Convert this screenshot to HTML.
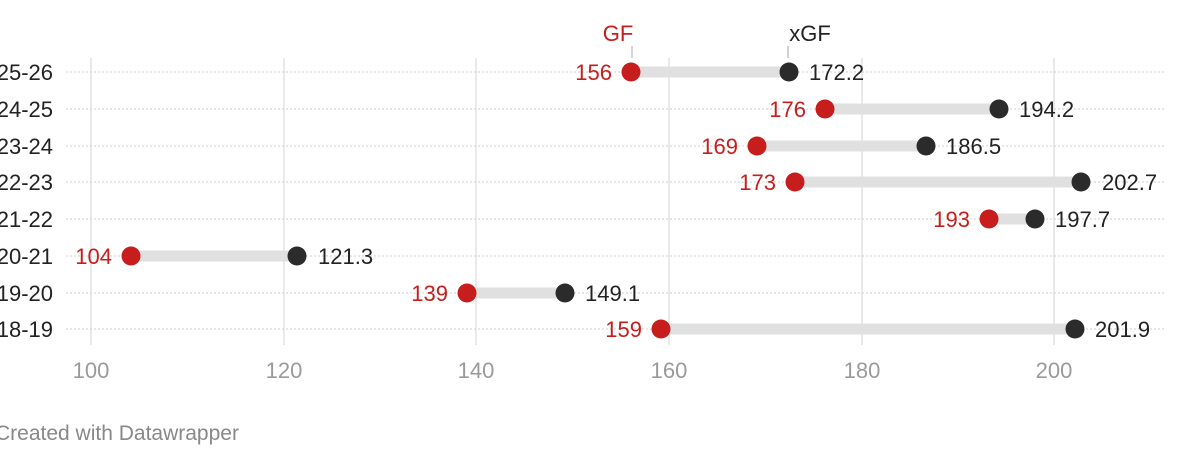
<!DOCTYPE html>
<html><head><meta charset="utf-8"><style>
html,body{margin:0;padding:0;background:#fff;width:1200px;height:458px;overflow:hidden}
svg{display:block;font-family:"Liberation Sans",sans-serif}
</style></head><body>
<svg width="1200" height="458" viewBox="0 0 1200 458">
<g stroke="#e2e2e2" stroke-width="1.5">
<line x1="91" y1="58" x2="91" y2="345"/><line x1="284" y1="58" x2="284" y2="345"/>
<line x1="476" y1="58" x2="476" y2="345"/><line x1="669" y1="58" x2="669" y2="345"/>
<line x1="862" y1="58" x2="862" y2="345"/><line x1="1054" y1="58" x2="1054" y2="345"/>
</g>
<g stroke="#cfcfcf" stroke-width="1" stroke-dasharray="2,2">
<line x1="66" y1="72" x2="1166" y2="72"/><line x1="66" y1="109" x2="1166" y2="109"/>
<line x1="66" y1="146" x2="1166" y2="146"/><line x1="66" y1="182" x2="1166" y2="182"/>
<line x1="66" y1="219" x2="1166" y2="219"/><line x1="66" y1="256" x2="1166" y2="256"/>
<line x1="66" y1="293" x2="1166" y2="293"/><line x1="66" y1="329" x2="1166" y2="329"/>
</g>
<g font-size="22" fill="#222" text-anchor="end">
<text x="53" y="80">2025-26</text><text x="53" y="117">2024-25</text>
<text x="53" y="154">2023-24</text><text x="53" y="190">2022-23</text>
<text x="53" y="227">2021-22</text><text x="53" y="264">2020-21</text>
<text x="53" y="301">2019-20</text><text x="53" y="337">2018-19</text>
</g>
<g stroke="#e0e0e0" stroke-width="11">
<line x1="631" y1="72" x2="788" y2="72"/><line x1="825" y1="109" x2="999" y2="109"/>
<line x1="757" y1="146" x2="926" y2="146"/><line x1="795" y1="182" x2="1081" y2="182"/>
<line x1="989" y1="219" x2="1035" y2="219"/><line x1="131" y1="256" x2="297" y2="256"/>
<line x1="467" y1="293" x2="565" y2="293"/><line x1="661" y1="329" x2="1075" y2="329"/>
</g>
<g stroke="#aaa" stroke-width="1"><line x1="632" y1="46" x2="632" y2="58"/><line x1="788" y1="46" x2="788" y2="58"/></g>
<text x="618" y="41" font-size="22" fill="#c71e1d" text-anchor="middle">GF</text>
<text x="810" y="41" font-size="22" fill="#222" text-anchor="middle">xGF</text>
<g fill="#c71e1d">
<circle cx="631" cy="72" r="9.5"/><circle cx="825" cy="109" r="9.5"/><circle cx="757" cy="146" r="9.5"/>
<circle cx="795" cy="182" r="9.5"/><circle cx="989" cy="219" r="9.5"/><circle cx="131" cy="256" r="9.5"/>
<circle cx="467" cy="293" r="9.5"/><circle cx="661" cy="329" r="9.5"/>
</g>
<g fill="#2b2b2b">
<circle cx="789" cy="72" r="9.5"/><circle cx="999" cy="109" r="9.5"/><circle cx="926" cy="146" r="9.5"/>
<circle cx="1081" cy="182" r="9.5"/><circle cx="1035" cy="219" r="9.5"/><circle cx="297" cy="256" r="9.5"/>
<circle cx="565" cy="293" r="9.5"/><circle cx="1075" cy="329" r="9.5"/>
</g>
<g font-size="22" fill="#c71e1d" text-anchor="end">
<text x="612" y="80">156</text><text x="806" y="117">176</text><text x="738" y="154">169</text>
<text x="776" y="190">173</text><text x="970" y="227">193</text><text x="112" y="264">104</text>
<text x="448" y="301">139</text><text x="642" y="337">159</text>
</g>
<g font-size="22" fill="#222">
<text x="809" y="80">172.2</text><text x="1019" y="117">194.2</text><text x="946" y="154">186.5</text>
<text x="1102" y="190">202.7</text><text x="1055" y="227">197.7</text><text x="318" y="264">121.3</text>
<text x="585" y="301">149.1</text><text x="1095" y="337">201.9</text>
</g>
<g font-size="22" fill="#9a9a9a" text-anchor="middle">
<text x="91" y="378">100</text><text x="284" y="378">120</text><text x="476" y="378">140</text>
<text x="669" y="378">160</text><text x="862" y="378">180</text><text x="1054" y="378">200</text>
</g>
<text x="-5" y="440" font-size="21" fill="#888">Created with Datawrapper</text>
</svg>
</body></html>
